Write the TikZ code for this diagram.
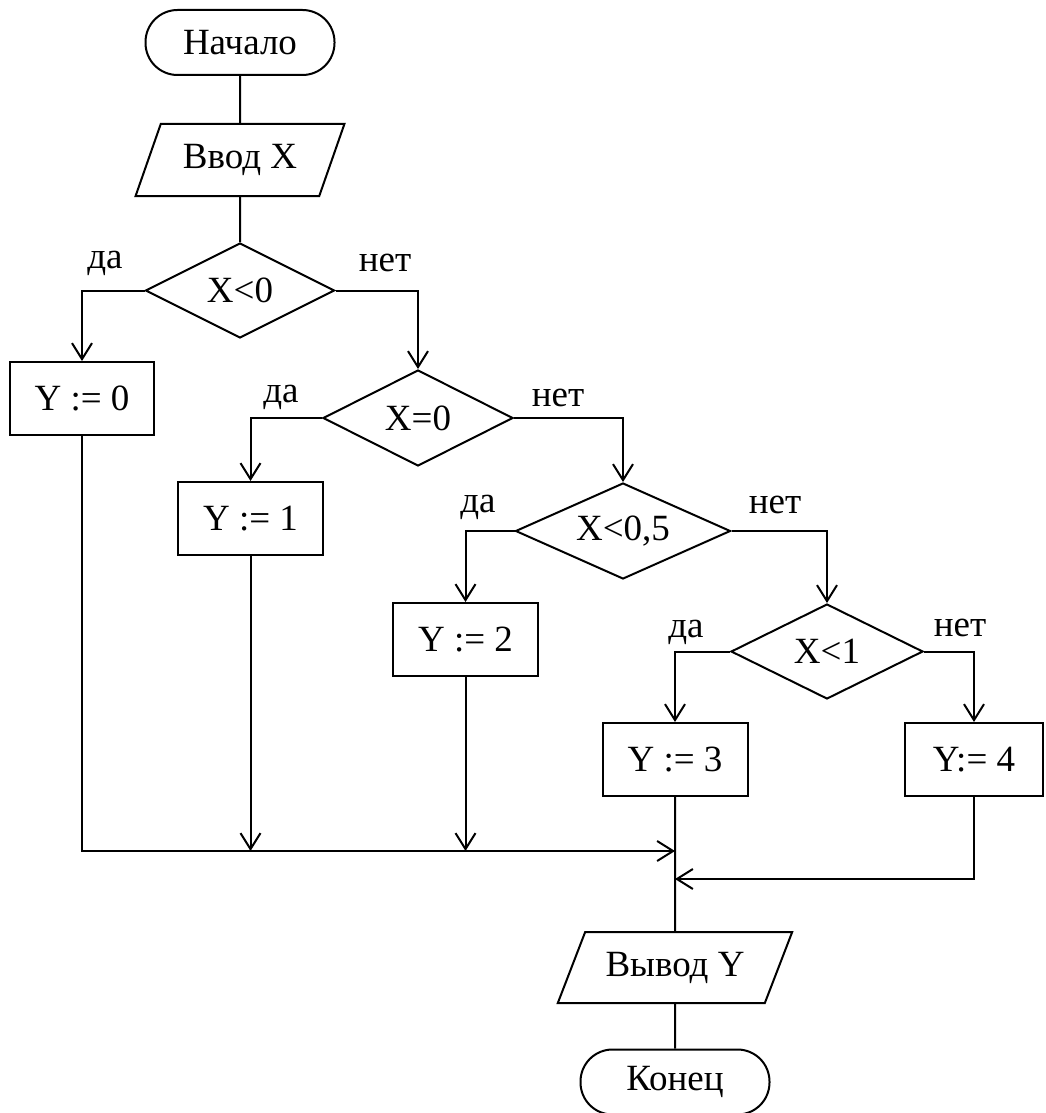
\documentclass[tikz,border=0pt]{standalone}
\usepackage{fontspec}
\setmainfont{Liberation Serif}
\usetikzlibrary{arrows.meta,shapes.geometric}
\begin{document}
\begin{tikzpicture}[x=0.5pt,y=-0.5pt,
  every node/.style={font=\fontsize{18.5}{22}\selectfont, inner sep=0pt},
  line/.style={line width=1pt},
  flow/.style={line width=1pt, -{Straight Barb[length=8pt,width=10pt]}},
  term/.style={draw, line width=1pt, rectangle, rounded corners=16pt, minimum width=94.5pt, minimum height=32.5pt},
  io/.style={draw, line width=1pt, trapezium, trapezium stretches=true, trapezium left angle=60, trapezium right angle=120},
  cond/.style={draw, line width=1pt, diamond, aspect=2},
  proc/.style={draw, line width=1pt, rectangle, minimum height=36.5pt},
  lbl/.style={}
]
\useasboundingbox (0,0) rectangle (1045,1113);

\node[term] (start) at (240,42.5) {Начало};
\node[io, minimum width=104.5pt, minimum height=36pt] (in) at (240,160) {Ввод X};
\node[cond, minimum width=94.5pt, minimum height=47.5pt] (d1) at (240,290.5) {X<0};
\node[cond, minimum width=95pt, minimum height=48pt] (d2) at (418,418) {X=0};
\node[cond, minimum width=107.5pt, minimum height=48pt] (d3) at (623,531) {X<0,5};
\node[cond, minimum width=96pt, minimum height=47.5pt] (d4) at (827,651.5) {X<1};

\node[proc, minimum width=72pt] (y0) at (82,398.5) {Y := 0};
\node[proc, minimum width=72.5pt] (y1) at (250.5,518.5) {Y := 1};
\node[proc, minimum width=72.5pt] (y2) at (465.5,639.5) {Y := 2};
\node[proc, minimum width=72.5pt] (y3) at (675,759.5) {Y := 3};
\node[proc, minimum width=69pt] (y4) at (974,759.5) {Y:= 4};

\node[io, minimum width=117.5pt, minimum height=35.5pt, trapezium left angle=56, trapezium right angle=124] (out) at (675,967.5) {Вывод Y};
\node[term] (end) at (675,1082) {Конец};

\node[lbl] at (105,263) {да};
\node[lbl] at (385,263) {нет};
\node[lbl] at (281,397) {да};
\node[lbl] at (558,398) {нет};
\node[lbl] at (478,507) {да};
\node[lbl] at (775,505) {нет};
\node[lbl] at (686,632) {да};
\node[lbl] at (960,628) {нет};

\coordinate (m1) at (675,851);
\coordinate (m2) at (675,879);

\draw[line] (start.south) -- (in.north);
\draw[line] (in.south) -- (d1.north);
\draw[flow] (d1.west) -| (y0.north);
\draw[flow] (d1.east) -| (d2.north);
\draw[flow] (d2.west) -| (y1.north);
\draw[flow] (d2.east) -| (d3.north);
\draw[flow] (d3.west) -| (y2.north);
\draw[flow] (d3.east) -| (d4.north);
\draw[flow] (d4.west) -| (y3.north);
\draw[flow] (d4.east) -| (y4.north);

\draw[flow] (y0.south) |- (m1);
\draw[flow] (y1.south) -- (y1.south |- m1);
\draw[flow] (y2.south) -- (y2.south |- m1);
\draw[flow] (y4.south) |- (m2);
\draw[line] (y3.south) -- (out.north);
\draw[line] (out.south) -- (end.north);
\end{tikzpicture}
\end{document}
